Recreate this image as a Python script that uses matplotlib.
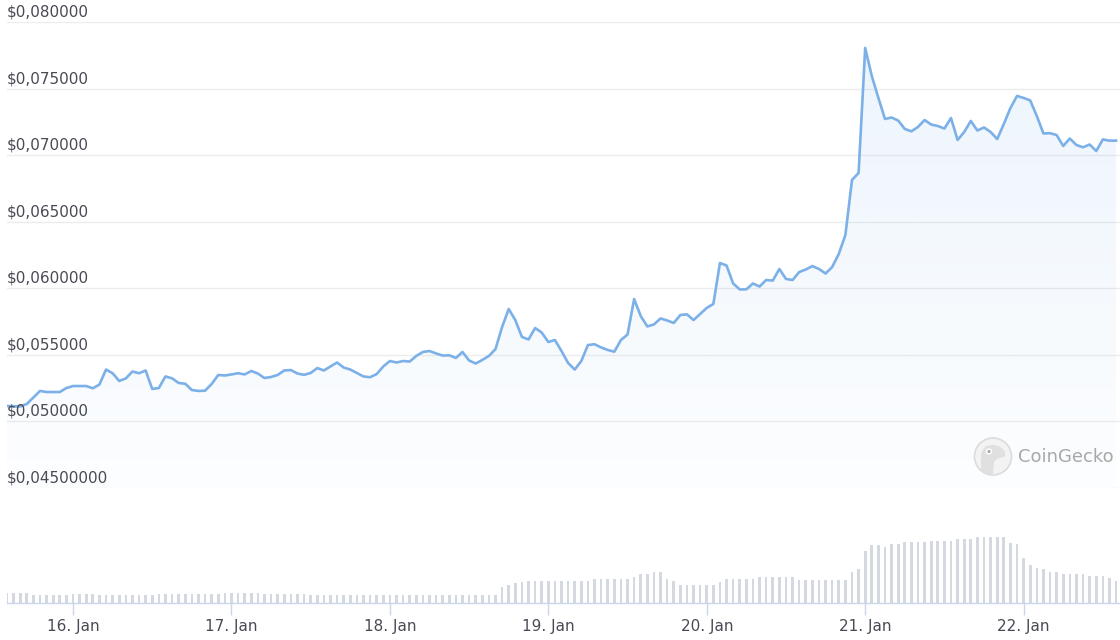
import numpy as np
import pandas as pd
import matplotlib
matplotlib.use('Agg')
import matplotlib.pyplot as plt
import matplotlib.dates as mdates
from matplotlib.patches import Circle, Polygon

# Hourly price, 15 Jan 14:00 -> 22 Jan 14:00
prices = [
    0.05113, 0.05111, 0.05109, 0.05128, 0.05177, 0.05226, 0.05218, 0.05218, 0.05218, 0.05248, 0.05263, 0.05263,
    0.05263, 0.05246, 0.05274, 0.05387, 0.05359, 0.05301, 0.05320, 0.05372, 0.05359, 0.05380, 0.05241, 0.05248,
    0.05335, 0.05321, 0.05286, 0.05280, 0.05233, 0.05226, 0.05228, 0.05278, 0.05346, 0.05342, 0.05350, 0.05359,
    0.05350, 0.05376, 0.05357, 0.05323, 0.05331, 0.05346, 0.05380, 0.05383, 0.05357, 0.05347, 0.05361, 0.05398,
    0.05380, 0.05410, 0.05440, 0.05402, 0.05387, 0.05361, 0.05335, 0.05329, 0.05353, 0.05410, 0.05451, 0.05440,
    0.05451, 0.05447, 0.05489, 0.05519, 0.05526, 0.05508, 0.05492, 0.05494, 0.05474, 0.05519, 0.05455, 0.05432,
    0.05459, 0.05489, 0.05541, 0.05707, 0.05842, 0.05759, 0.05632, 0.05613, 0.05699, 0.05665, 0.05594, 0.05609,
    0.05526, 0.05436, 0.05387, 0.05451, 0.05571, 0.05577, 0.05553, 0.05534, 0.05521, 0.05609, 0.05650, 0.05917,
    0.05789, 0.05711, 0.05726, 0.05771, 0.05756, 0.05737, 0.05797, 0.05802, 0.05759, 0.05805, 0.05850, 0.05880,
    0.06188, 0.06169, 0.06034, 0.05989, 0.05990, 0.06034, 0.06011, 0.06060, 0.06056, 0.06143, 0.06068, 0.06060,
    0.06120, 0.06139, 0.06165, 0.06143, 0.06109, 0.06158, 0.06256, 0.06398, 0.06812, 0.06865, 0.07805, 0.07594,
    0.07429, 0.07271, 0.07282, 0.07259, 0.07196, 0.07178, 0.07211, 0.07263, 0.07229, 0.07218, 0.07199, 0.07278,
    0.07113, 0.07173, 0.07256, 0.07184, 0.07207, 0.07173, 0.07120, 0.07233, 0.07353, 0.07444, 0.07429, 0.07410,
    0.07293, 0.07162, 0.07164, 0.07150, 0.07068, 0.07124, 0.07075, 0.07058, 0.07079, 0.07030, 0.07117, 0.07108, 0.07108,
]

# Hourly volume (relative units, no axis shown)
volumes = [
    30, 30, 30, 30, 24, 24, 24, 24, 24, 24, 28, 28,
    28, 28, 24, 24, 24, 24, 24, 24, 24, 24, 24, 27,
    27, 27, 27, 27, 27, 27, 27, 26, 26, 31, 31, 31,
    31, 31, 31, 27, 27, 27, 27, 27, 27, 27, 23, 23,
    23, 23, 23, 23, 23, 23, 23, 23, 23, 23, 23, 23,
    23, 23, 23, 23, 23, 23, 23, 23, 23, 23, 23, 23,
    23, 23, 23, 49, 54, 60, 64, 67, 67, 67, 67, 67,
    67, 67, 67, 67, 67, 72, 72, 72, 72, 72, 72, 79,
    87, 87, 92, 92, 72, 67, 55, 55, 55, 55, 55, 55,
    62, 72, 72, 72, 72, 72, 78, 78, 78, 78, 78, 78,
    69, 69, 69, 69, 69, 69, 69, 69, 92, 100, 155, 172,
    172, 167, 177, 177, 182, 182, 182, 182, 184, 184, 184, 184,
    190, 190, 190, 197, 197, 197, 197, 197, 180, 177, 134, 114,
    104, 100, 92, 92, 86, 86, 86, 86, 82, 82, 82, 74, 67,
]

times = pd.date_range('2024-01-15 14:00', periods=len(prices), freq='h')

y_ticks = [0.045, 0.050, 0.055, 0.060, 0.065, 0.070, 0.075, 0.080]
y_labels = ['$0,04500000', '$0,050000', '$0,055000', '$0,060000',
            '$0,065000', '$0,070000', '$0,075000', '$0,080000']

W, H = 1120, 640
fig = plt.figure(figsize=(W / 100, H / 100), dpi=100)
fig.patch.set_facecolor('white')

x0 = times[0]
x1 = times[0] + pd.Timedelta(hours=168.6)

# price pane: y=22px (0.080) to y=487.5px (0.045)
left = 7 / W
ax = fig.add_axes([left, (H - 487.5) / H, 1 - left, (487.5 - 22) / H])
ax.set_xlim(x0, x1)
ax.set_ylim(0.045, 0.080)
for s in ax.spines.values():
    s.set_visible(False)
ax.set_xticks([])
ax.set_yticks(y_ticks)
ax.tick_params(axis='y', length=0, labelleft=False)
ax.grid(axis='y', color='#ececec', linewidth=1)
ax.set_axisbelow(True)

# gradient area under the line
fill = ax.fill_between(times, prices, 0.045, color='none', linewidth=0)
grad = np.linspace(0.15, 0.02, 256).reshape(-1, 1)
rgba = np.zeros((256, 1, 4))
rgba[..., 0] = 124 / 255
rgba[..., 1] = 181 / 255
rgba[..., 2] = 236 / 255
rgba[..., 3] = grad
img = ax.imshow(rgba, aspect='auto', origin='upper',
                extent=[mdates.date2num(x0), mdates.date2num(x1), 0.045, 0.080],
                zorder=1)
img.set_clip_path(fill.get_paths()[0], transform=ax.transData)
ax.set_xlim(x0, x1)
ax.set_ylim(0.045, 0.080)

ax.plot(times, prices, color='#7cb0e8', linewidth=1.9, zorder=3,
        solid_joinstyle='round')

for v, lab in zip(y_ticks, y_labels):
    ax.annotate(lab, xy=(0, v), xycoords=('axes fraction', 'data'),
                xytext=(0, 1.5), textcoords='offset points',
                ha='left', va='bottom', fontsize=11, color='#4a4a55')

# watermark (pixel coords, y up)
cx, cy = 993, H - 456.5
logo = Circle((cx, cy), 18.5, transform=None, facecolor='#f3f3f3',
              edgecolor='#dcdcdc', linewidth=1.2, zorder=5)
fig.patches.append(logo)
head = Polygon([(cx - 12, cy - 18), (cx - 12, cy + 3), (cx - 8, cy + 10),
                (cx - 1, cy + 12), (cx + 7, cy + 10), (cx + 12, cy + 5),
                (cx + 12, cy), (cx + 5, cy - 2), (cx + 1, cy - 5),
                (cx, cy - 18)],
               closed=True, transform=None, facecolor='#e0e0e0',
               edgecolor='none', zorder=6)
head.set_clip_path(logo)
fig.patches.append(head)
fig.patches.append(Circle((cx - 4, cy + 5), 3.2, transform=None,
                          facecolor='white', edgecolor='none', zorder=7))
fig.patches.append(Circle((cx - 4, cy + 5), 1.6, transform=None,
                          facecolor='#a9a9a9', edgecolor='none', zorder=8))
fig.text(1018 / W, 1 - 456.5 / H, 'CoinGecko', fontsize=13, color='#a8a8a8',
         ha='left', va='center')

# volume pane: baseline at y=603px
vb = 603
vh = 103
axv = fig.add_axes([left, (H - vb) / H, 1 - left, vh / H])
axv.set_xlim(x0, x1)
axv.set_ylim(0, max(volumes) * vh / 66)
axv.bar(times, volumes, width=0.4 / 24, color='#d3d8e1', linewidth=0)
for k in ['top', 'left', 'right']:
    axv.spines[k].set_visible(False)
axv.spines['bottom'].set_color('#ccd6eb')
axv.spines['bottom'].set_linewidth(1)
axv.set_yticks([])
axv.patch.set_alpha(0)
axv.xaxis.set_major_locator(mdates.DayLocator())
axv.xaxis.set_major_formatter(mdates.DateFormatter('%d. %b'))
axv.tick_params(axis='x', length=8.5, width=1, color='#ccd6eb',
                labelsize=11, labelcolor='#4a4a55', pad=3)

fig.savefig('out.png', dpi=100, facecolor='white')
